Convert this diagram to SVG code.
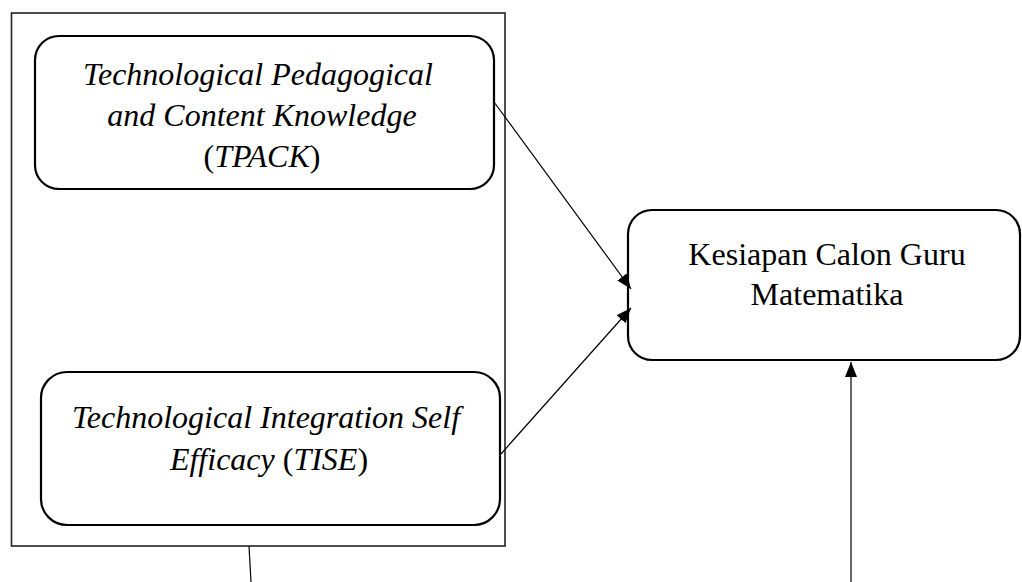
<svg xmlns="http://www.w3.org/2000/svg" width="1022" height="582" viewBox="0 0 1022 582">
<style>
.box{fill:#fff;stroke:#000;stroke-width:2.2}
.outer{fill:#fff;stroke:#222;stroke-width:1.6}
.t{font-family:"Liberation Serif","Times New Roman",serif;font-size:32px;fill:#000;text-anchor:middle}
.i{font-style:italic}
.c{stroke:#000;stroke-width:1.2;fill:none}
</style>
<defs>
<marker id="ah" markerUnits="userSpaceOnUse" markerWidth="16" markerHeight="12" refX="15" refY="6" orient="auto">
<path d="M0,0 L15,6 L0,12 Z" fill="#000"/>
</marker>
</defs>
<rect width="1022" height="582" fill="#fff"/>
<g id="group-box">
<rect class="outer" x="11.5" y="13" width="493.5" height="533"/>
</g>
<g id="tpack">
<rect class="box" x="35" y="36" width="459" height="153" rx="24"/>
<text class="t i" x="258" y="85">Technological Pedagogical</text>
<text class="t i" x="262" y="126">and Content Knowledge</text>
<text class="t" x="262" y="167">(<tspan class="i">TPACK</tspan>)</text>
</g>
<g id="tise">
<rect class="box" x="41" y="372" width="459" height="153" rx="26"/>
<text class="t i" x="266" y="428">Technological Integration Self</text>
<text class="t" x="269" y="470"><tspan class="i">Efficacy</tspan> (<tspan class="i">TISE</tspan>)</text>
</g>
<g id="kesiapan">
<rect class="box" x="628" y="210" width="392" height="150" rx="24"/>
<text class="t" x="827" y="265">Kesiapan Calon Guru</text>
<text class="t" x="827" y="305">Matematika</text>
</g>
<g id="connectors">
<line class="c" x1="494" y1="102" x2="631" y2="289" marker-end="url(#ah)"/>
<line class="c" x1="500" y1="455" x2="631" y2="308" marker-end="url(#ah)"/>
<line class="c" x1="851" y1="582" x2="851" y2="362" marker-end="url(#ah)"/>
<line class="c" x1="249" y1="546" x2="251" y2="582"/>
</g>
</svg>
